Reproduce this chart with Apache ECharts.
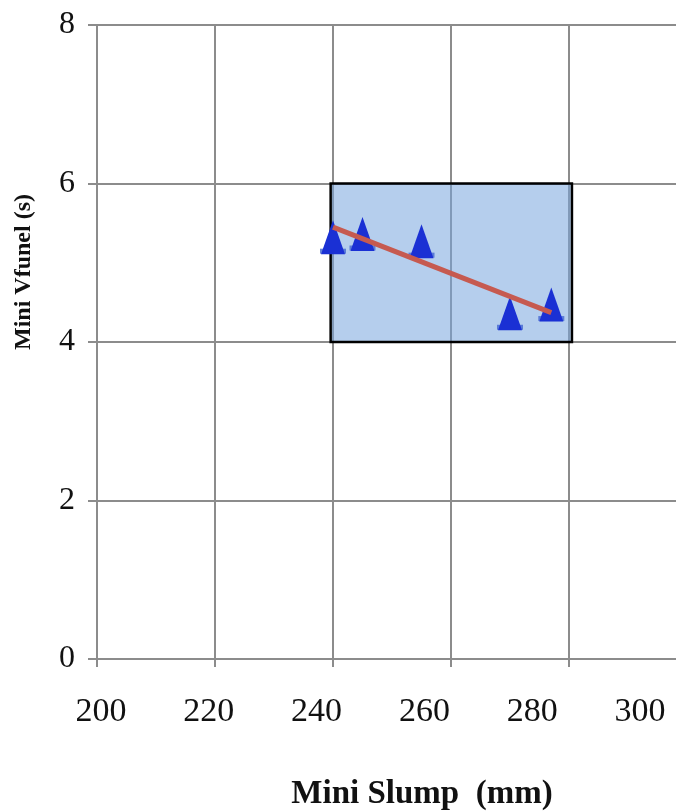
<!DOCTYPE html>
<html>
<head>
<meta charset="utf-8">
<title>Mini Slump vs Mini Vfunel</title>
<script src="https://cdn.jsdelivr.net/npm/echarts@6/dist/echarts.min.js"></script>
<style>
  html, body { margin: 0; padding: 0; background: #ffffff; }
  #chart { width: 676px; height: 812px; }
</style>
</head>
<body>
<div id="chart"></div>
<script>
// Measured mixes: mini slump spread (mm) and mini V-funnel flow time (s)
const slump = [240, 245, 255, 270, 277];
const vfunnel = [5.31, 5.35, 5.26, 4.35, 4.46];

// Linear trend line end points
const trendX = [240, 277];
const trendY = [5.45, 4.37];

// Acceptance window (shaded box)
const boxX = [239.6, 280.5];
const boxY = [4, 6];

// Axis ranges and tick labels
const xTicks = [200, 220, 240, 260, 280, 300];
const yTicks = [0, 2, 4, 6, 8];

const GRID_GRAY = '#8c8c8c';
const SERIF = '"Liberation Serif", "Times New Roman", serif';

const points = slump.map((x, i) => [x, vfunnel[i]]);
const trend = trendX.map((x, i) => [x, trendY[i]]);

const chart = echarts.init(document.getElementById('chart'), null, { renderer: 'canvas' });

chart.setOption({
  backgroundColor: '#ffffff',
  animation: false,
  grid: [
    // plotting area (runs past the right edge of the canvas)
    { left: 97, top: 25, width: 590, bottom: 153, containLabel: false, outerBoundsMode: 'none' },
    // carries the x tick labels only
    { left: 101, top: 25, width: 539, bottom: 153, containLabel: false, outerBoundsMode: 'none' }
  ],
  xAxis: [
    {
      gridIndex: 0,
      type: 'value',
      min: xTicks[0],
      max: xTicks[xTicks.length - 1],
      interval: 20,
      axisLine: { show: true, onZero: false, lineStyle: { color: GRID_GRAY, width: 2 } },
      axisTick: { show: true, inside: false, length: 8, lineStyle: { color: GRID_GRAY, width: 2 } },
      axisLabel: { show: false },
      splitLine: { show: true, lineStyle: { color: GRID_GRAY, width: 2 } }
    },
    {
      gridIndex: 1,
      type: 'value',
      min: xTicks[0],
      max: xTicks[xTicks.length - 1],
      interval: 20,
      axisLine: { show: false },
      axisTick: { show: false },
      splitLine: { show: false },
      axisLabel: {
        show: true,
        margin: 36,
        fontFamily: SERIF,
        fontSize: 34,
        color: '#111111'
      }
    }
  ],
  yAxis: [
    {
      gridIndex: 0,
      type: 'value',
      min: yTicks[0],
      max: yTicks[yTicks.length - 1],
      interval: 2,
      axisLine: { show: true, onZero: false, lineStyle: { color: GRID_GRAY, width: 2 } },
      axisTick: { show: true, inside: false, length: 9, lineStyle: { color: GRID_GRAY, width: 2 } },
      axisLabel: {
        show: true,
        margin: 22,
        fontFamily: SERIF,
        fontSize: 32,
        color: '#111111'
      },
      splitLine: { show: true, lineStyle: { color: GRID_GRAY, width: 2 } }
    },
    {
      gridIndex: 1,
      type: 'value',
      min: yTicks[0],
      max: yTicks[yTicks.length - 1],
      show: false
    }
  ],
  series: [
    {
      // shaded acceptance window
      type: 'line',
      xAxisIndex: 0,
      yAxisIndex: 0,
      data: [],
      z: 1,
      markArea: {
        silent: true,
        itemStyle: {
          color: 'rgba(120, 165, 222, 0.55)',
          borderColor: '#000000',
          borderWidth: 2.5
        },
        data: [[
          { coord: [boxX[0], boxY[1]] },
          { coord: [boxX[1], boxY[0]] }
        ]]
      }
    },
    {
      // lighter base under each triangle marker
      type: 'scatter',
      xAxisIndex: 0,
      yAxisIndex: 0,
      data: points,
      symbol: 'rect',
      symbolSize: [26, 5],
      symbolOffset: [0, 13],
      itemStyle: { color: '#4a6cd2', opacity: 0.85 },
      z: 3
    },
    {
      type: 'scatter',
      xAxisIndex: 0,
      yAxisIndex: 0,
      data: points,
      symbol: 'triangle',
      symbolSize: [24, 34],
      symbolOffset: [0, -1],
      itemStyle: { color: '#1a30d4', opacity: 1 },
      z: 4
    },
    {
      type: 'line',
      xAxisIndex: 0,
      yAxisIndex: 0,
      data: trend,
      showSymbol: false,
      symbol: 'none',
      lineStyle: { color: '#c65a50', width: 5, cap: 'butt' },
      z: 5
    }
  ],
  graphic: [
    {
      type: 'text',
      x: 422,
      y: 794,
      style: {
        text: 'Mini Slump  (mm)',
        font: 'bold 33px ' + SERIF,
        fill: '#111111',
        textAlign: 'center',
        textVerticalAlign: 'middle'
      }
    },
    {
      type: 'text',
      x: 24,
      y: 272,
      rotation: Math.PI / 2,
      style: {
        text: 'Mini Vfunel (s)',
        font: 'bold 24px ' + SERIF,
        fill: '#111111',
        textAlign: 'center',
        textVerticalAlign: 'middle'
      }
    }
  ]
});
</script>
</body>
</html>
